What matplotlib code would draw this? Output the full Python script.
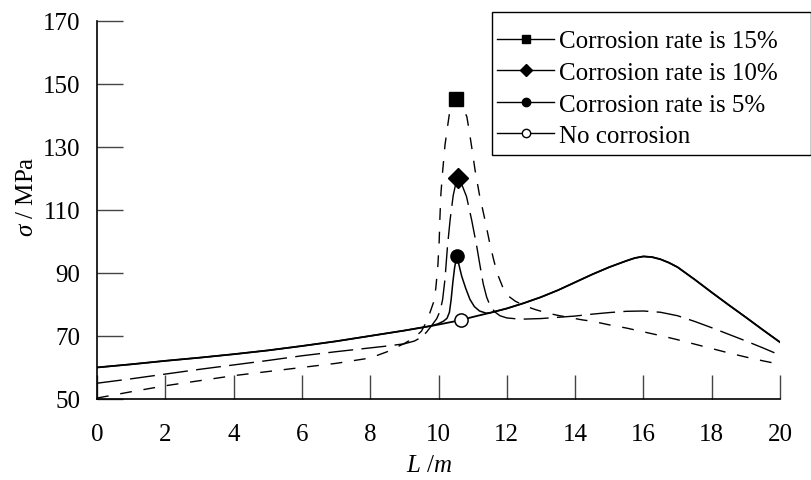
import matplotlib
matplotlib.use("Agg")
import matplotlib.pyplot as plt
from matplotlib.lines import Line2D
from matplotlib.patches import Rectangle

plt.rcParams['font.family'] = ['Liberation Serif', 'DejaVu Serif']
plt.rcParams['mathtext.fontset'] = 'custom'
plt.rcParams['mathtext.rm'] = 'Liberation Serif'
plt.rcParams['mathtext.it'] = 'Liberation Serif:italic'
plt.rcParams['lines.scale_dashes'] = False

# stress along the length, no corrosion
L_none = [0, 1, 2, 3, 4, 5, 6, 7, 8, 9, 9.8, 10, 10.65, 11, 11.5, 12, 12.5, 13,
          13.5, 14, 14.5, 15, 15.5, 15.75, 16, 16.25, 16.5, 16.75, 17, 17.5, 18,
          18.5, 19, 19.5, 20]
s_none = [60, 61, 62.1, 63.1, 64.2, 65.4, 66.8, 68.3, 70, 71.7, 73.2, 73.6, 75, 76.0,
          77.3, 78.7, 80.4, 82.3, 84.5, 87.0, 89.5, 91.8, 93.8, 94.7, 95.2, 95.0,
          94.3, 93.2, 91.8, 87.9, 83.8, 79.8, 75.9, 71.9, 68]

# corrosion rate 5%
L_5 = [0, 1, 2, 3, 4, 5, 6, 7, 8, 9, 9.8, 10.0, 10.15, 10.25, 10.32, 10.37, 10.42,
       10.47, 10.53, 10.6, 10.68, 10.8, 10.92, 11.05, 11.2, 11.4, 11.5, 12, 12.5, 13,
       13.5, 14, 14.5, 15, 15.5, 15.75, 16, 16.25, 16.5, 16.75, 17, 17.5, 18, 18.5,
       19, 19.5, 20]
s_5 = [60, 61, 62.1, 63.1, 64.2, 65.4, 66.8, 68.3, 70, 71.7, 73.2, 73.9, 74.7, 75.6,
       77.5, 81.5, 87, 91.5, 95.2, 92.5, 88.9, 85, 81.6, 79.3, 77.9, 77.2, 77.3, 78.7,
       80.4, 82.3, 84.5, 87.0, 89.5, 91.8, 93.8, 94.7, 95.2, 95.0, 94.3, 93.2, 91.8,
       87.9, 83.8, 79.8, 75.9, 71.9, 68]

# corrosion rate 10%
L_10 = [0, 1, 2, 3, 4, 5, 6, 7, 8, 8.5, 9, 9.3, 9.5, 9.65, 9.8, 9.95, 10.05, 10.12,
        10.19, 10.26, 10.34, 10.43, 10.5, 10.58, 10.7, 10.82, 10.97, 11.12, 11.22,
        11.31, 11.41, 11.51, 11.65, 11.8, 12.0, 12.4, 13, 13.5, 14, 14.5, 15, 15.5,
        16, 16.5, 17, 17.5, 18, 18.5, 19, 19.5, 20]
s_10 = [55, 56.4, 57.9, 59.4, 60.8, 62.2, 63.7, 65, 66.2, 66.8, 67.5, 68.4, 69.6, 71.2,
        73.3, 75.5, 78, 81.5, 88, 98, 106.8, 114.5, 118, 120.2, 117.5, 114.2, 106.8,
        98.4, 92, 86.5, 82.3, 79.6, 77.6, 76.4, 75.7, 75.3, 75.5, 75.9, 76.3, 76.9,
        77.4, 77.8, 77.9, 77.5, 76.4, 74.6, 72.6, 70.5, 68.4, 66.2, 63.9]

# corrosion rate 15%
L_15 = [0, 1, 2, 3, 4, 5, 6, 7, 8, 8.5, 9, 9.3, 9.5, 9.65, 9.75, 9.85, 9.92, 9.98,
        10.02, 10.04, 10.07, 10.12, 10.19, 10.26, 10.32, 10.42, 10.52, 10.65, 10.75,
        10.83, 10.9, 10.97, 11.07, 11.2, 11.36, 11.51, 11.63, 11.75, 11.88, 12.0,
        12.25, 12.53, 12.85, 13.17, 13.5, 13.85, 14.2, 14.53, 15, 15.5, 16, 16.5, 17,
        17.5, 18, 18.5, 19, 19.5, 20]
s_15 = [50.3, 52.3, 54.2, 55.8, 57.4, 58.7, 60, 61.3, 63, 65, 67.6, 69.5, 71.5, 74.5,
        77.4, 80.5, 85, 92, 100, 107, 115, 122, 130.5, 136, 140.5, 143.5, 145.2, 143.5,
        141.5, 139.5, 135, 130, 122.6, 114.7, 106.8, 98.9, 93.5, 89, 85.5, 83, 81,
        79.5, 78.3, 77.3, 76.5, 75.8, 75.1, 74.6, 73.5, 72.5, 71.3, 70.1, 68.8, 67.4,
        66, 64.6, 63.3, 62.1, 61]

# peak markers
peak_L = [10.52, 10.58, 10.53, 10.65]
peak_s = [145.2, 120.2, 95.2, 75]

labels = ['Corrosion rate is 15%', 'Corrosion rate is 10%',
          'Corrosion rate is 5%', 'No corrosion']

W, H = 812, 481
fig = plt.figure(figsize=(W / 100, H / 100), dpi=100)
ax = fig.add_axes([97 / W, 1 - 400 / H, 683 / W, 378.5 / H])

ax.plot(L_15, s_15, color='k', lw=1.0, dashes=(8.5, 8.5))
ax.plot(L_10, s_10, color='k', lw=1.0, dashes=(18, 6))
ax.plot(L_5, s_5, color='k', lw=1.1)
ax.plot(L_none, s_none, color='k', lw=1.3)

ax.plot(peak_L[0], peak_s[0], 's', ms=9.5, color='k', zorder=5)
ax.plot(peak_L[1], peak_s[1], 'D', ms=10, color='k', zorder=5)
ax.plot(peak_L[2], peak_s[2], 'o', ms=9.5, color='k', zorder=5)
ax.plot(peak_L[3], peak_s[3], 'o', ms=9.5, mfc='white', mec='k', mew=1.1, zorder=5)

ax.set_xlim(0, 20)
ax.set_ylim(50, 170)
ax.set_xticks(range(0, 21, 2))
ax.set_yticks(range(50, 171, 20))
ax.tick_params(direction='in', width=1, color='#444444', labelsize=18)
ax.tick_params(axis='x', length=17, pad=17)
ax.tick_params(axis='y', length=19, pad=12)
for side in ['top', 'right']:
    ax.spines[side].set_visible(False)
for side in ['left', 'bottom']:
    ax.spines[side].set_linewidth(1.2)

ax.set_ylabel(r'$\sigma$ / MPa', fontsize=18, va='center')
ax.yaxis.set_label_coords(-0.1025, 0.536)
ax.set_xlabel(r'$L$ /$m$', fontsize=18, va='center')
ax.xaxis.set_label_coords(0.486, -0.174)

handles = [
    Line2D([], [], color='k', lw=1, marker='s', ms=6),
    Line2D([], [], color='k', lw=1, marker='D', ms=6.5),
    Line2D([], [], color='k', lw=1, marker='o', ms=6),
    Line2D([], [], color='k', lw=1, marker='o', ms=6, mfc='white'),
]
fig.legend(handles, labels, loc='upper left', bbox_to_anchor=(492 / W, 1 - 26 / H),
           bbox_transform=fig.transFigure, fontsize=18, frameon=False,
           handlelength=2.3, handletextpad=0.2, borderpad=0.2, labelspacing=0.36,
           borderaxespad=0)
# legend box
fig.patches.append(Rectangle((491.7 / W, 1 - 156 / H), 319.5 / W, 142.7 / H,
                             transform=fig.transFigure, fill=False, ec='k', lw=1.0))

fig.savefig('out.png', dpi=100)
